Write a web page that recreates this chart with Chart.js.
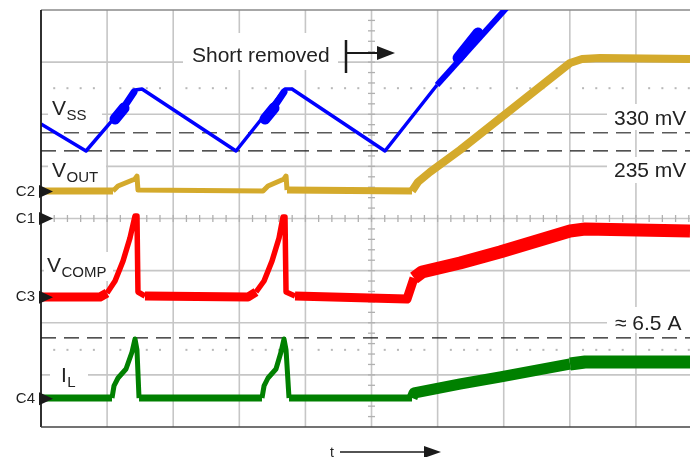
<!DOCTYPE html>
<html>
<head>
<meta charset="utf-8">
<script src="https://cdn.jsdelivr.net/npm/chart.js@4/dist/chart.umd.min.js"></script>
<style>
html,body{margin:0;padding:0;background:#fff;overflow:hidden;}
#wrap{width:690px;height:457px;position:relative;}
</style>
</head>
<body>
<div id="wrap"><canvas id="c" width="690" height="457"></canvas></div>
<script>
// ---- Data (in oscilloscope divisions: x 0..9.82, y 0..8) ----
const vssX  = [0, 0.681, 1.120, 1.422, 1.528, 2.950, 3.359, 3.691, 3.797, 5.204, 5.991, 7.095];
const vssY  = [5.813, 5.295, 5.947, 6.465, 6.484, 5.295, 5.947, 6.484, 6.484, 5.295, 6.561, 8.115];
// noisy (thick) parts of the V_SS trace
const vssFatX = [1.120, 1.256, null, 3.389, 3.525, null, 6.309, 6.611];
const vssFatY = [5.909, 6.120, null, 5.909, 6.120, null, 7.079, 7.559];
const vssMidX = [1.195, 1.407, null, 3.464, 3.676];
const vssMidY = [6.024, 6.427, null, 6.024, 6.427];

const voutX = [0, 1.089, 1.165, 1.422, 1.452, 1.467, 3.359, 3.434, 3.676, 3.707, 3.722, 5.613, 5.703, 5.885, 6.339, 8.003, 8.185, 8.457, 9.818];
const voutY = [4.528, 4.528, 4.624, 4.758, 4.815, 4.547, 4.528, 4.624, 4.758, 4.815, 4.547, 4.528, 4.700, 4.892, 5.314, 6.983, 7.060, 7.079, 7.060];

const vcompX = [0, 0.893, 0.999, 1.120, 1.241, 1.346, 1.422, 1.452, 1.467, 1.573, 3.132, 3.253, 3.374, 3.495, 3.601, 3.661, 3.691, 3.707, 3.843, 5.537, 5.643, 5.764, 6.339, 6.944, 8.003, 8.230, 9.818];
const vcompY = [2.494, 2.494, 2.571, 2.801, 3.185, 3.626, 4.048, 4.048, 2.590, 2.513, 2.494, 2.590, 2.801, 3.185, 3.626, 4.029, 4.029, 2.590, 2.513, 2.456, 2.859, 2.974, 3.146, 3.357, 3.760, 3.799, 3.760];

const ilX = [0, 1.074, 1.104, 1.165, 1.286, 1.377, 1.422, 1.452, 1.483, 3.343, 3.374, 3.434, 3.555, 3.631, 3.676, 3.707, 3.752, 5.613, 5.643, 6.339, 6.944, 8.003, 8.230, 9.818];
const ilY = [0.556, 0.556, 0.787, 0.940, 1.113, 1.439, 1.688, 1.477, 0.556, 0.556, 0.787, 0.940, 1.113, 1.439, 1.688, 1.477, 0.556, 0.556, 0.652, 0.825, 0.959, 1.209, 1.247, 1.247];

const dashLevels = [5.643, 5.298, 1.708];          // 330 mV, 235 mV, ≈6.5 A
const dottedLevels = [6.5, 1.48];
const channelLevels = {C2: 4.52, C1: 4.0, C3: 2.49, C4: 0.54};
const pulseRanges = [[0.95, 1.47], [3.2, 3.72]];
const xMax = 9.818, yMax = 8;

const mk = (xs, ys) => xs.map((x, i) => (x === null ? {x: null, y: null} : {x: x, y: ys[i]}));

const BLUE = '#0000ff', GOLD = '#d4aa2c', RED = '#ff0000', GREEN = '#008000';
const TXT = '#222222';

const inPulse = c => pulseRanges.some(r => c.p0.parsed.x >= r[0] && c.p0.parsed.x < r[1]);

const datasets = [
  {data: mk(vssFatX, vssFatY), borderColor: BLUE, borderWidth: 11, spanGaps: false, borderCapStyle: 'round'},
  {data: mk(vssMidX, vssMidY), borderColor: BLUE, borderWidth: 7, spanGaps: false, borderCapStyle: 'round'},
  {data: mk(vssX, vssY), borderColor: BLUE, borderWidth: 3.5,
   segment: {borderWidth: c => c.p0.parsed.x >= 5.9 ? 6 : 3.5}},
  {data: mk(voutX, voutY), borderColor: GOLD, borderWidth: 7,
   segment: {borderWidth: c => inPulse(c) ? 5 : (c.p0.parsed.x >= 5.6 ? 8 : 7)}},
  {data: mk(vcompX, vcompY), borderColor: RED, borderWidth: 9,
   segment: {borderWidth: c => inPulse(c) ? 5.5 : (c.p0.parsed.x >= 5.6 ? 13 : 9)}},
  {data: mk(ilX, ilY), borderColor: GREEN, borderWidth: 7,
   segment: {borderWidth: c => inPulse(c) ? 5 : (c.p0.parsed.x >= 8.0 ? 13 : (c.p0.parsed.x >= 5.6 ? 11 : 7))}},
  {data: [{x: 0, y: dashLevels[0]}, {x: xMax, y: dashLevels[0]}], borderColor: '#5a5a5a', borderWidth: 1.5, borderDash: [15, 8]},
  {data: [{x: 0, y: dashLevels[1]}, {x: xMax, y: dashLevels[1]}], borderColor: '#1a1a1a', borderWidth: 1.3, borderDash: [15, 8]},
  {data: [{x: 0, y: dashLevels[2]}, {x: xMax, y: dashLevels[2]}], borderColor: '#1a1a1a', borderWidth: 1.3, borderDash: [15, 8]}
];
datasets.forEach(d => {
  d.pointRadius = 0; d.tension = 0; d.borderJoinStyle = 'round'; d.fill = false;
  if (!d.borderCapStyle) d.borderCapStyle = 'butt';
});

function drawSub(ctx, x, y, main, sub) {
  ctx.fillStyle = TXT;
  ctx.textBaseline = 'alphabetic';
  ctx.textAlign = 'left';
  ctx.font = '21px "Liberation Sans", Arial, sans-serif';
  ctx.fillText(main, x, y);
  const w = ctx.measureText(main).width;
  ctx.font = '15px "Liberation Sans", Arial, sans-serif';
  ctx.fillText(sub, x + w + 0.5, y + 5);
}

const scopePlugin = {
  id: 'scope',
  beforeDatasetsDraw(chart) {
    const ctx = chart.ctx, a = chart.chartArea, sx = chart.scales.x, sy = chart.scales.y;
    ctx.save();
    // grid
    ctx.strokeStyle = '#c6c6c6'; ctx.lineWidth = 1.6;
    for (let i = 1; i <= 9; i++) {
      const px = sx.getPixelForValue(i);
      ctx.beginPath(); ctx.moveTo(px, a.top); ctx.lineTo(px, a.bottom); ctx.stroke();
    }
    for (let j = 1; j <= 7; j++) {
      const py = sy.getPixelForValue(j);
      ctx.beginPath(); ctx.moveTo(a.left, py); ctx.lineTo(a.right, py); ctx.stroke();
    }
    // top border
    ctx.strokeStyle = '#8a8a8a'; ctx.lineWidth = 1.6;
    ctx.beginPath(); ctx.moveTo(a.left, a.top); ctx.lineTo(a.right, a.top); ctx.stroke();
    // center ticks
    ctx.strokeStyle = '#b0b0b0'; ctx.lineWidth = 1.3;
    const cy = sy.getPixelForValue(4), cx = sx.getPixelForValue(5);
    for (let t = 0.2; t < xMax; t += 0.2) {
      const px = sx.getPixelForValue(t);
      ctx.beginPath(); ctx.moveTo(px, cy - 3.5); ctx.lineTo(px, cy + 3.5); ctx.stroke();
    }
    for (let t = 0.2; t < yMax; t += 0.2) {
      const py = sy.getPixelForValue(t);
      ctx.beginPath(); ctx.moveTo(cx - 3.5, py); ctx.lineTo(cx + 3.5, py); ctx.stroke();
    }
    // dotted rows
    ctx.fillStyle = '#b8b8b8';
    dottedLevels.forEach(lv => {
      const py = sy.getPixelForValue(lv);
      for (let t = 0.2; t < xMax; t += 0.2) {
        if (Math.abs(t - Math.round(t)) < 0.01) continue;
        const px = sx.getPixelForValue(t);
        ctx.fillRect(px - 1, py - 1, 2, 2);
      }
    });
    // white label boxes
    ctx.fillStyle = '#ffffff';
    [[48, 93, 54, 33], [48, 158, 58, 28], [44, 252, 69, 29], [50, 362, 38, 28],
     [183, 33, 155, 37], [607, 104, 83, 26], [607, 157, 83, 26], [607, 307, 83, 26]]
      .forEach(b => ctx.fillRect(b[0], b[1], b[2], b[3]));
    // labels
    drawSub(ctx, 52, 115, 'V', 'SS');
    drawSub(ctx, 52, 177, 'V', 'OUT');
    drawSub(ctx, 47, 272, 'V', 'COMP');
    drawSub(ctx, 61, 382, 'I', 'L');
    ctx.fillStyle = TXT;
    ctx.font = '21px "Liberation Sans", Arial, sans-serif';
    ctx.textAlign = 'left';
    ctx.fillText('Short removed', 192, 62);
    ctx.fillText('330 mV', 614, 125);
    ctx.fillText('235 mV', 614, 177);
    ctx.fillText('\u2248 6.5 A', 615, 330);
    // short-removed marker
    ctx.strokeStyle = '#1a1a1a'; ctx.lineWidth = 2.5;
    ctx.beginPath(); ctx.moveTo(346, 40); ctx.lineTo(346, 73); ctx.stroke();
    ctx.lineWidth = 2;
    ctx.beginPath(); ctx.moveTo(346, 53); ctx.lineTo(380, 53); ctx.stroke();
    ctx.fillStyle = '#1a1a1a';
    ctx.beginPath(); ctx.moveTo(377, 46); ctx.lineTo(395, 53); ctx.lineTo(377, 60); ctx.closePath(); ctx.fill();
    ctx.restore();
  },
  afterDatasetsDraw(chart) {
    const ctx = chart.ctx, a = chart.chartArea, sy = chart.scales.y;
    ctx.save();
    // left & bottom borders
    ctx.strokeStyle = '#1a1a1a'; ctx.lineWidth = 1.8;
    ctx.beginPath(); ctx.moveTo(a.left, a.top); ctx.lineTo(a.left, a.bottom); ctx.stroke();
    ctx.strokeStyle = '#444'; ctx.lineWidth = 1.6;
    ctx.beginPath(); ctx.moveTo(a.left, a.bottom); ctx.lineTo(a.right, a.bottom); ctx.stroke();
    // channel markers
    ctx.font = '15px "Liberation Sans", Arial, sans-serif';
    ctx.textAlign = 'right'; ctx.textBaseline = 'middle';
    Object.keys(channelLevels).forEach(k => {
      const py = sy.getPixelForValue(channelLevels[k]);
      ctx.fillStyle = '#1a1a1a';
      ctx.beginPath(); ctx.moveTo(39, py - 6.5); ctx.lineTo(53, py); ctx.lineTo(39, py + 6.5); ctx.closePath(); ctx.fill();
      ctx.fillStyle = TXT;
      ctx.fillText(k, 35, py);
    });
    // time arrow
    ctx.fillStyle = TXT; ctx.textAlign = 'left'; ctx.textBaseline = 'alphabetic';
    ctx.font = '14px "Liberation Sans", Arial, sans-serif';
    ctx.fillText('t', 330, 457);
    ctx.strokeStyle = '#1a1a1a'; ctx.lineWidth = 1.5;
    ctx.beginPath(); ctx.moveTo(340, 452); ctx.lineTo(426, 452); ctx.stroke();
    ctx.fillStyle = '#1a1a1a';
    ctx.beginPath(); ctx.moveTo(424, 446); ctx.lineTo(441, 452); ctx.lineTo(424, 458); ctx.closePath(); ctx.fill();
    ctx.restore();
  }
};

new Chart(document.getElementById('c'), {
  type: 'line',
  data: {datasets: datasets},
  options: {
    responsive: false,
    animation: false,
    layout: {padding: {left: 41, top: 10, right: 0, bottom: 30}},
    plugins: {legend: {display: false}, tooltip: {enabled: false}},
    scales: {
      x: {type: 'linear', min: 0, max: xMax, display: false},
      y: {type: 'linear', min: 0, max: yMax, display: false}
    }
  },
  plugins: [scopePlugin]
});
</script>
</body>
</html>
